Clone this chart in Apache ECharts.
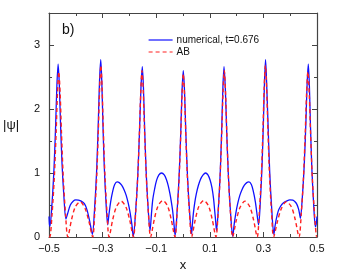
<!DOCTYPE html>
<html>
<head>
<meta charset="utf-8">
<script src="https://cdn.jsdelivr.net/npm/echarts@6/dist/echarts.min.js"></script>
<style>
html,body{margin:0;padding:0;background:#fff;}
#c{width:340px;height:277px;}
</style>
</head>
<body>
<div id="c"></div>
<script>
// ---- data ----
var xTicks = [-0.5, -0.3, -0.1, 0.1, 0.3, 0.5];
var yTicks = [0, 1, 2, 3];
var seriesNames = ['numerical, t=0.676', 'AB'];

var numX = [
 -0.5, -0.4985, -0.4965, -0.4889, -0.4813, -0.4752, -0.4706, -0.466, -0.4617, -0.4573, -0.4515, -0.4443,
 -0.437, -0.431, -0.4205, -0.41, -0.400, -0.39, -0.38, -0.368, -0.358, -0.349, -0.3425,
 -0.338, -0.3303, -0.3225, -0.3163, -0.3117, -0.307, -0.3031, -0.2992, -0.294, -0.2875,
 -0.281, -0.277, -0.270, -0.262, -0.255, -0.246, -0.238, -0.229, -0.220, -0.212, -0.204, -0.197, -0.191,
 -0.1855, -0.1771, -0.1688, -0.1621, -0.157, -0.152, -0.1476, -0.1433, -0.1375, -0.1303,
 -0.123, -0.118, -0.113, -0.106, -0.099, -0.090, -0.080, -0.070, -0.062, -0.055, -0.049, -0.044, -0.039, -0.035, -0.031,
 -0.029, -0.0223, -0.0145, -0.0083, -0.0037, 0.001, 0.0057, 0.0103, 0.0165, 0.0243,
 0.032, 0.035, 0.039, 0.044, 0.050, 0.057, 0.065, 0.075, 0.084, 0.093, 0.101, 0.108, 0.114, 0.118, 0.122,
 0.125, 0.132, 0.139, 0.1446, 0.1488, 0.153, 0.1579, 0.1628, 0.1693, 0.1774,
 0.1855, 0.191, 0.197, 0.204, 0.212, 0.220, 0.229, 0.238, 0.246, 0.255, 0.262, 0.270, 0.277,
 0.282, 0.2885, 0.295, 0.3002, 0.3041, 0.308, 0.3119, 0.3173, 0.3235, 0.3313,
 0.339, 0.343, 0.348, 0.355, 0.364, 0.374, 0.386, 0.399, 0.410, 0.418, 0.425, 0.431, 0.435,
 0.438, 0.4454, 0.4528, 0.4587, 0.4631, 0.4675, 0.4715, 0.4755, 0.4808, 0.4874,
 0.494, 0.497, 0.5
];
var numY = [
 0.32, 0.20, 0.17, 0.52, 1.08, 1.76, 2.37, 2.70, 2.39, 1.80, 1.15, 0.62,
 0.28, 0.36, 0.50, 0.56, 0.58, 0.575, 0.56, 0.52, 0.42, 0.26, 0.12,
 0.04, 0.42, 1.02, 1.76, 2.42, 2.77, 2.43, 1.82, 1.12, 0.55,
 0.19, 0.33, 0.55, 0.72, 0.82, 0.86, 0.85, 0.81, 0.74, 0.65, 0.52, 0.37, 0.20,
 0.01, 0.38, 0.96, 1.68, 2.32, 2.66, 2.33, 1.71, 1.02, 0.46,
 0.10, 0.35, 0.58, 0.75, 0.88, 0.97, 1.00, 0.97, 0.90, 0.80, 0.68, 0.56, 0.42, 0.26, 0.08,
 0.03, 0.39, 0.96, 1.65, 2.27, 2.60, 2.27, 1.66, 0.97, 0.41,
 0.05, 0.20, 0.38, 0.54, 0.68, 0.80, 0.90, 0.97, 1.00, 0.97, 0.89, 0.77, 0.60, 0.42, 0.24,
 0.10, 0.46, 1.02, 1.71, 2.33, 2.66, 2.32, 1.68, 0.96, 0.38,
 0.01, 0.20, 0.37, 0.52, 0.65, 0.74, 0.81, 0.85, 0.86, 0.82, 0.72, 0.55, 0.33,
 0.19, 0.55, 1.12, 1.82, 2.43, 2.77, 2.42, 1.76, 1.02, 0.42,
 0.04, 0.16, 0.28, 0.40, 0.48, 0.53, 0.56, 0.58, 0.575, 0.55, 0.51, 0.44, 0.36,
 0.29, 0.63, 1.16, 1.81, 2.39, 2.70, 2.37, 1.76, 1.07, 0.52,
 0.16, 0.20, 0.32
];

var abX = [
 -0.5, -0.497, -0.4886, -0.4803, -0.4735, -0.4685, -0.4635, -0.4585, -0.4535, -0.4468, -0.4384,
 -0.430, -0.416, -0.402, -0.3835, -0.365, -0.351,
 -0.337, -0.3294, -0.3218, -0.3157, -0.3111, -0.3065, -0.3019, -0.2974, -0.2913, -0.2836,
 -0.276, -0.2624, -0.2487, -0.2305, -0.2123, -0.1987,
 -0.185, -0.177, -0.169, -0.1626, -0.1578, -0.153, -0.1482, -0.1434, -0.137, -0.129,
 -0.121, -0.1074, -0.0937, -0.0755, -0.0573, -0.0437,
 -0.030, -0.0222, -0.0145, -0.0083, -0.0036, 0.001, 0.0057, 0.0103, 0.0165, 0.0243,
 0.032, 0.0457, 0.0593, 0.0775, 0.0957, 0.1093,
 0.123, 0.1308, 0.1385, 0.1447, 0.1494, 0.154, 0.1587, 0.1633, 0.1695, 0.1773,
 0.185, 0.1988, 0.2126, 0.231, 0.2494, 0.2632,
 0.277, 0.2846, 0.2923, 0.2984, 0.3029, 0.3075, 0.3121, 0.3167, 0.3228, 0.3304,
 0.338, 0.3523, 0.3665, 0.3855, 0.4045, 0.4188,
 0.433, 0.4413, 0.4495, 0.4561, 0.4611, 0.466, 0.4710, 0.4759, 0.4825, 0.4908,
 0.499, 0.5
];
var abY = [
 0, 0, 0.36, 0.93, 1.63, 2.24, 2.58, 2.24, 1.63, 0.93, 0.36,
 0, 0.27, 0.47, 0.55, 0.44, 0.24,
 0, 0.38, 0.96, 1.69, 2.33, 2.68, 2.33, 1.69, 0.96, 0.38,
 0, 0.27, 0.47, 0.56, 0.46, 0.26,
 0, 0.36, 0.94, 1.64, 2.26, 2.60, 2.26, 1.64, 0.94, 0.36,
 0, 0.27, 0.48, 0.57, 0.48, 0.27,
 0, 0.36, 0.92, 1.61, 2.22, 2.55, 2.22, 1.61, 0.92, 0.36,
 0, 0.27, 0.48, 0.57, 0.48, 0.27,
 0, 0.36, 0.94, 1.64, 2.26, 2.60, 2.26, 1.64, 0.94, 0.36,
 0, 0.26, 0.46, 0.56, 0.47, 0.27,
 0, 0.38, 0.96, 1.69, 2.33, 2.68, 2.33, 1.69, 0.96, 0.38,
 0, 0.24, 0.44, 0.55, 0.47, 0.27,
 0, 0.36, 0.93, 1.63, 2.24, 2.58, 2.24, 1.63, 0.93, 0.36,
 0, 0
];

function pairs(xs, ys) {
  var out = [];
  for (var i = 0; i < xs.length; i++) out.push([xs[i], ys[i]]);
  return out;
}

var font = 'Liberation Sans, Arial, Helvetica, sans-serif';
var frame = '#444';

function fmtX(v) {
  var r = Math.round(v * 10) / 10;
  if (xTicks.indexOf(r) < 0) return '';
  return (r < 0 ? '\u2212' : '') + Math.abs(r).toFixed(1);
}
function fmtY(v) {
  return yTicks.indexOf(v) >= 0 ? String(v) : '';
}

var chart = echarts.init(document.getElementById('c'), null, {renderer: 'canvas'});
chart.setOption({
  animation: false,
  backgroundColor: '#fff',
  title: {
    text: 'b)', left: 57, top: 18,
    textStyle: {fontFamily: font, fontSize: 14, fontWeight: 'normal', color: '#111'}
  },
  legend: {
    data: seriesNames,
    orient: 'vertical',
    left: 143, top: 30,
    itemWidth: 24, itemHeight: 10, itemGap: 2,
    itemStyle: {opacity: 0, borderWidth: 0},
    lineStyle: {width: 1.2},
    textStyle: {fontFamily: font, fontSize: 10, color: '#111', padding: [0,0,0,-1]}
  },
  grid: {left: 49, right: 23, top: 13, bottom: 40},
  xAxis: [{
    type: 'value', min: -0.5, max: 0.5, interval: 0.2,
    name: 'x', nameLocation: 'middle', nameGap: 20,
    nameTextStyle: {fontFamily: font, fontSize: 13, color: '#111'},
    axisLine: {show: true, onZero: false, lineStyle: {color: frame, width: 1.2}},
    axisTick: {show: true, inside: true, length: 5, lineStyle: {color: frame}},
    minorTick: {show: true, splitNumber: 2, length: 3, lineStyle: {color: frame}},
    axisLabel: {formatter: fmtX, fontFamily: font, fontSize: 11, color: '#111', margin: 6},
    splitLine: {show: false}
  }, {
    type: 'value', position: 'top', min: -0.5, max: 0.5, interval: 0.2,
    axisLine: {show: true, onZero: false, lineStyle: {color: frame, width: 1.2}},
    axisTick: {show: true, inside: true, length: 5, lineStyle: {color: frame}},
    minorTick: {show: true, splitNumber: 2, length: 3, lineStyle: {color: frame}},
    axisLabel: {show: false},
    splitLine: {show: false}
  }],
  yAxis: [{
    type: 'value', min: 0, max: 3.5, interval: 1,
    name: '|\u03c8|', nameLocation: 'middle', nameGap: 30, nameRotate: 0,
    nameTextStyle: {fontFamily: font, fontSize: 13, color: '#111'},
    axisLine: {show: true, onZero: false, lineStyle: {color: frame, width: 1.2}},
    axisTick: {show: true, inside: true, length: 5, lineStyle: {color: frame}},
    minorTick: {show: true, splitNumber: 2, length: 3, lineStyle: {color: frame}},
    axisLabel: {formatter: fmtY, fontFamily: font, fontSize: 11, color: '#111', margin: 9},
    splitLine: {show: false}
  }, {
    type: 'value', position: 'right', min: 0, max: 3.5, interval: 1,
    axisLine: {show: true, onZero: false, lineStyle: {color: frame, width: 1.2}},
    axisTick: {show: true, inside: true, length: 5, lineStyle: {color: frame}},
    minorTick: {show: true, splitNumber: 2, length: 3, lineStyle: {color: frame}},
    axisLabel: {show: false},
    splitLine: {show: false}
  }],
  series: [{
    name: seriesNames[0], type: 'line', xAxisIndex: 0, yAxisIndex: 0,
    data: pairs(numX, numY),
    showSymbol: false, symbol: 'none', smooth: 0.3,
    color: '#1010ff',
    lineStyle: {color: '#1010ff', width: 1.3}
  }, {
    name: seriesNames[1], type: 'line', xAxisIndex: 0, yAxisIndex: 0,
    data: pairs(abX, abY),
    showSymbol: false, symbol: 'none', smooth: 0.3,
    color: '#ff2020',
    lineStyle: {color: '#ff2020', width: 1.4, type: [4, 3]}
  }]
});
</script>
</body>
</html>
